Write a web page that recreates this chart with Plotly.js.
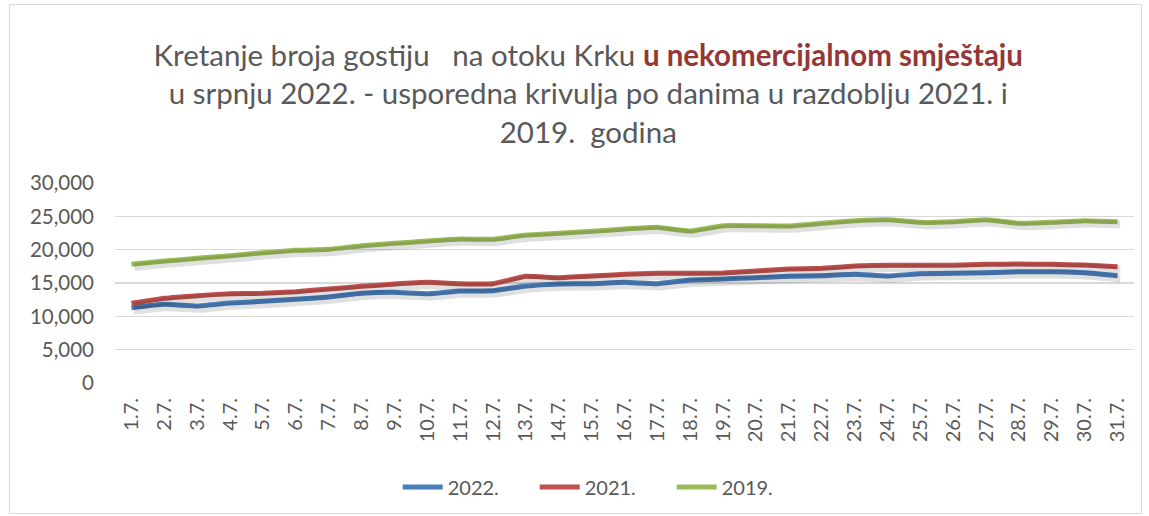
<!DOCTYPE html>
<html>
<head>
<meta charset="utf-8">
<script src="https://cdn.plot.ly/plotly-3.0.1.min.js"></script>
<style>
  html, body { margin: 0; padding: 0; background: #ffffff; }
  #chart { width: 1149px; height: 516px; }
  #frame { position: absolute; left: 9px; top: 4px; width: 1131px; height: 508px; border: 1px solid #d9d9d9; pointer-events: none; }
</style>
</head>
<body>
<div id="chart"></div>
<div id="frame"></div>
<script>
const days = ["1.7.","2.7.","3.7.","4.7.","5.7.","6.7.","7.7.","8.7.","9.7.","10.7.",
  "11.7.","12.7.","13.7.","14.7.","15.7.","16.7.","17.7.","18.7.","19.7.","20.7.",
  "21.7.","22.7.","23.7.","24.7.","25.7.","26.7.","27.7.","28.7.","29.7.","30.7.","31.7."];

const guests2022 = [11300,11800,11550,12000,12250,12550,12900,13450,13600,13400,
  13800,13850,14550,14850,14900,15100,14900,15450,15600,15800,
  16000,16100,16300,16050,16400,16450,16550,16700,16700,16550,16100];

const guests2021 = [11950,12700,13100,13400,13450,13700,14100,14500,14850,15100,
  14900,14900,16000,15800,16050,16300,16450,16450,16500,16800,
  17100,17200,17550,17650,17650,17650,17800,17850,17800,17700,17450];

const guests2019 = [17800,18300,18700,19100,19550,19900,20050,20600,20950,21300,
  21600,21550,22200,22450,22750,23100,23350,22800,23600,23600,
  23550,23950,24350,24500,24100,24200,24500,23950,24100,24350,24200];

const seriesNames = ["2022.", "2021.", "2019."];
const seriesData = [guests2022, guests2021, guests2019];
const seriesColors = ["#4a7ebb", "#c0504d", "#9bbb59"];

const yTickVals = [0, 5000, 10000, 15000, 20000, 25000, 30000];

const traces = [];
// soft shadows (same data, drawn on slightly offset overlay axes)
seriesData.forEach((d, i) => {
  traces.push({
    x: days, y: d, type: "scatter", mode: "lines",
    xaxis: "x2", yaxis: "y2",
    line: { color: "rgba(0,0,0,0.12)", width: 8, shape: "spline", smoothing: 0.3 },
    showlegend: false, hoverinfo: "skip"
  });
});
seriesData.forEach((d, i) => {
  traces.push({
    x: days, y: d, type: "scatter", mode: "lines",
    name: seriesNames[i],
    line: { color: seriesColors[i], width: 5, shape: "spline", smoothing: 0.3 }
  });
});

const shiftX = 0.08;   // category units
const shiftY = 420;    // value units

const layout = {
  width: 1149, height: 516,
  paper_bgcolor: "#ffffff", plot_bgcolor: "#ffffff",
  margin: { l: 115, r: 15, t: 183, b: 133, pad: 0 },
  font: { family: "Lato, 'Open Sans', sans-serif", color: "#595959", size: 20 },
  title: {
    text: "Kretanje broja gostiju   na otoku Krku <b><span style='color:#953735'>u nekomercijalnom smještaju</span></b><br>u srpnju 2022. - usporedna krivulja po danima u razdoblju 2021. i<br>2019.  godina",
    font: { family: "Lato, 'Open Sans', sans-serif", size: 29.5, color: "#595959" },
    x: 0.512, xref: "container", xanchor: "center",
    y: 1 - 66 / 516, yref: "container", yanchor: "top"
  },
  xaxis: {
    type: "category", range: [-0.5, 30.5],
    showgrid: false, zeroline: false, showline: false, ticks: "",
    tickangle: -90, tickfont: { size: 20, color: "#595959" },
    ticklabelstandoff: 10
  },
  yaxis: {
    range: [0, 30000], tickvals: yTickVals, tickformat: ",d",
    showgrid: true, gridcolor: "#d9d9d9", gridwidth: 1.5,
    zeroline: false, showline: false, ticks: "",
    tickfont: { size: 20.5, color: "#595959" },
    ticklabelstandoff: 20
  },
  xaxis2: {
    type: "category", overlaying: "x", range: [-0.5 - shiftX, 30.5 - shiftX],
    visible: false, showgrid: false
  },
  yaxis2: {
    overlaying: "y", range: [0 + shiftY, 30000 + shiftY],
    visible: false, showgrid: false
  },
  legend: {
    orientation: "h", x: 0.525, xref: "container", xanchor: "center",
    y: 1 - 487 / 516, yref: "container", yanchor: "middle",
    font: { size: 20, color: "#595959" }, itemwidth: 40,
    entrywidth: 82, entrywidthmode: "pixels", tracegroupgap: 0
  },
  showlegend: true
};

Plotly.newPlot("chart", traces, layout, { displayModeBar: false, staticPlot: true });
</script>
</body>
</html>
